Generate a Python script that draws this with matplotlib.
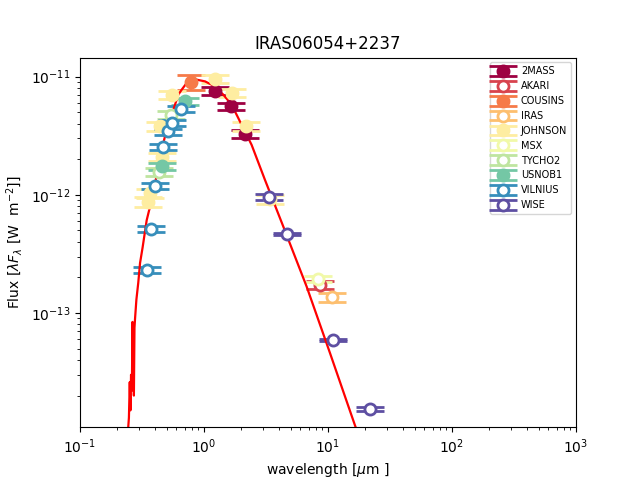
import numpy as np
import matplotlib
matplotlib.use('Agg')
import matplotlib.pyplot as plt

# photometry per catalogue: wavelength [um], lambda*F_lambda [W m^-2], error
surveys = ['2MASS', 'AKARI', 'COUSINS', 'IRAS', 'JOHNSON',
           'MSX', 'TYCHO2', 'USNOB1', 'VILNIUS', 'WISE']

twomass_wl = [1.235, 1.662, 2.159]
twomass_flux = [7.6e-12, 5.6e-12, 3.3e-12]
twomass_err = [0.6e-12, 0.4e-12, 0.25e-12]

akari_wl = [8.6]
akari_flux = [1.73e-13]
akari_err = [0.12e-13]

cousins_wl = [0.79]
cousins_flux = [8.95e-12]
cousins_err = [1.3e-12]

iras_wl = [10.8]
iras_flux = [1.36e-13]
iras_err = [0.11e-13]

johnson_wl = [0.353, 0.367, 0.44, 0.455, 0.55, 1.225, 1.67, 2.18, 3.4]
johnson_flux = [0.87e-12, 1.03e-12, 3.8e-12, 2.1e-12, 7.05e-12,
                9.6e-12, 7.3e-12, 3.8e-12, 0.92e-12]
johnson_err = [0.08e-12, 0.09e-12, 0.3e-12, 0.17e-12, 0.55e-12,
               0.8e-12, 0.6e-12, 0.3e-12, 0.08e-12]

msx_wl = [8.28]
msx_flux = [1.94e-13]
msx_err = [0.12e-13]

tycho_wl = [0.43, 0.54]
tycho_flux = [1.57e-12, 4.77e-12]
tycho_err = [0.12e-12, 0.35e-12]

usnob_wl = [0.455, 0.70]
usnob_flux = [1.74e-12, 6.2e-12]
usnob_err = [0.12e-12, 0.4e-12]

vilnius_wl = [0.347, 0.374, 0.405, 0.47, 0.515, 0.549, 0.65]
vilnius_flux = [2.31e-13, 5.15e-13, 1.19e-12, 2.54e-12, 3.44e-12, 4.05e-12, 5.3e-12]
vilnius_err = [0.13e-13, 0.3e-13, 0.07e-12, 0.15e-12, 0.2e-12, 0.24e-12, 0.3e-12]

wise_wl = [3.35, 4.67, 11.0, 21.8]
wise_flux = [0.96e-12, 4.67e-13, 5.9e-14, 1.54e-14]
wise_err = [0.06e-12, 0.1e-13, 0.12e-14, 0.05e-14]

filled = ['2MASS', 'COUSINS', 'JOHNSON', 'USNOB1']

# model spectrum
model_wl = [0.240, 0.248, 0.252, 0.255, 0.258, 0.262, 0.265, 0.268, 0.270,
            0.272, 0.275, 0.278, 0.285, 0.295, 0.305, 0.32, 0.345, 0.39,
            0.428, 0.47, 0.515, 0.566, 0.621, 0.661, 0.725, 0.77, 0.78,
            0.79, 0.873, 1.02, 1.18, 1.43, 1.67, 2.01, 2.42, 3.10, 4.36,
            6.73, 10.4, 16.5, 20.0]
model_flux = [8e-15, 1.3e-14, 2.6e-14, 1.5e-14, 3.0e-14, 2.2e-14, 8.4e-14,
              3.5e-14, 8.0e-14, 2.0e-14, 7.5e-14, 9.0e-14, 1.3e-13, 1.8e-13,
              2.65e-13, 3.6e-13, 6.1e-13, 1.03e-12, 1.74e-12, 2.74e-12,
              4.05e-12, 5.25e-12, 7.05e-12, 7.76e-12, 8.84e-12, 9.3e-12,
              8.2e-12, 9.4e-12, 9.43e-12, 9.12e-12, 8.44e-12, 7.05e-12,
              5.79e-12, 3.92e-12, 2.65e-12, 1.34e-12, 5.39e-13, 1.67e-13,
              4.55e-14, 1.12e-14, 6.5e-15]

data = [
    (twomass_wl, twomass_flux, twomass_err),
    (akari_wl, akari_flux, akari_err),
    (cousins_wl, cousins_flux, cousins_err),
    (iras_wl, iras_flux, iras_err),
    (johnson_wl, johnson_flux, johnson_err),
    (msx_wl, msx_flux, msx_err),
    (tycho_wl, tycho_flux, tycho_err),
    (usnob_wl, usnob_flux, usnob_err),
    (vilnius_wl, vilnius_flux, vilnius_err),
    (wise_wl, wise_flux, wise_err),
]

colors = plt.cm.Spectral(np.linspace(0, 1, len(surveys)))

fig, ax = plt.subplots(figsize=(6.4, 4.8), dpi=100)

for name, (wl, fl, er), col in zip(surveys, data, colors):
    mfc = col if name in filled else 'white'
    ax.errorbar(wl, fl, yerr=er, fmt='o', color=col, mfc=mfc, mec=col,
                ms=8, mew=2, capsize=10, capthick=2, elinewidth=1.5,
                label=name)

ax.plot(model_wl, model_flux, color='red', lw=1.6)

ax.set_xscale('log')
ax.set_yscale('log')
ax.set_xlim(0.1, 1000)
ax.set_ylim(1.08e-14, 1.45e-11)
ax.set_title('IRAS06054+2237')
ax.set_xlabel(r'wavelength [$\mu$m ]')
ax.set_ylabel(r'Flux [$\lambda F_\lambda$ [W  m$^{-2}$]]')
ax.legend(loc='upper right', fontsize=7, numpoints=1)

fig.savefig('out.png')
